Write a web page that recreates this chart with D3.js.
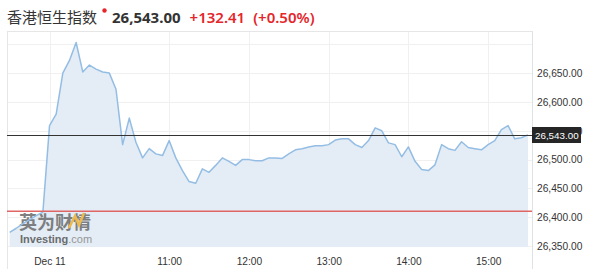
<!DOCTYPE html>
<html>
<head>
<meta charset="utf-8">
<script src="https://cdn.jsdelivr.net/npm/d3@7"></script>
<style>
  body { margin: 0; background: #fff; }
  svg { display: block; }
  .axis text { font-family: "Liberation Sans", Arial, sans-serif; font-size: 10.2px; fill: #333; }
</style>
</head>
<body>
<svg id="chart" width="600" height="269"></svg>
<script>
/*
    Chart data: 5 minute closes of the index on Dec 11
 */
var times = ["09:00","09:05","09:10","09:15","09:20","09:25","09:30","09:35","09:40","09:45",
    "09:50","09:55","10:00","10:05","10:10","10:15","10:20","10:25","10:30","10:35",
    "10:40","10:45","10:50","10:55","11:00","11:05","11:10","11:15","11:20","11:25",
    "11:30","11:35","11:40","11:45","11:50","11:55","12:00","12:05","12:10","12:15",
    "12:20","12:25","12:30","12:35","12:40","12:45","12:50","12:55","13:00","13:05",
    "13:10","13:15","13:20","13:25","13:30","13:35","13:40","13:45","13:50","13:55",
    "14:00","14:05","14:10","14:15","14:20","14:25","14:30","14:35","14:40","14:45",
    "14:50","14:55","15:00","15:05","15:10","15:15","15:20","15:25","15:30"];

var values = [26374,26381,26389,26396,26403,26409,26559,26579,26650,26672,
    26703,26652,26664,26657,26652,26650,26622,26526,26572,26530,
    26503,26519,26510,26507,26533,26503,26481,26462,26459,26484,
    26478,26490,26503,26497,26490,26500,26500,26498,26498,26503,
    26503,26502,26510,26517,26519,26522,26524,26524,26526,26534,
    26536,26536,26526,26521,26533,26555,26550,26529,26526,26505,
    26522,26497,26483,26481,26491,26526,26519,26516,26531,26521,
    26519,26517,26526,26533,26552,26559,26536,26538,26543];

var lastPrice = 26543.00;
var change = 132.41;
var prevClose = lastPrice - change;

var xTickTimes = ["09:30","11:00","12:00","13:00","14:00","15:00"];
var xTickLabels = ["Dec 11","11:00","12:00","13:00","14:00","15:00"];

var yGridValues = [26350,26400,26450,26500,26550,26600,26650,26700];
var yTickValues = [26350,26400,26450,26500,26550,26600,26650];


var plotLeft = 7, plotRight = 532, plotTop = 31, plotBottom = 247;

var parseTime = function(s){
    return d3.timeParse("%Y-%m-%d %H:%M")("2019-12-11 " + s);
};

var data = times.map(function(t, i){
    return {time: parseTime(t), value: values[i]};
});

var svg = d3.select("#chart");

var x = d3.scaleTime()
    .domain([parseTime("08:58"), parseTime("15:33")])
    .range([plotLeft, plotRight]);

var y = d3.scaleLinear()
    .domain([26348.5, 26723])
    .range([plotBottom, plotTop]);

/*
    Header
 */
svg.append("text")
    .attr("x", 7)
    .attr("y", 23)
    .attr("fill", "#333")
    .style("font-family", "'Noto Sans CJK SC', 'Noto Sans', sans-serif")
    .style("font-size", "15px")
    .text("香港恒生指数");

svg.append("circle")
    .attr("cx", 104.5)
    .attr("cy", 10.5)
    .attr("r", 2.2)
    .attr("fill", "#e5262b");

var priceText = svg.append("text")
    .attr("x", 112)
    .attr("y", 23)
    .style("font-family", "'Noto Sans', sans-serif")
    .style("font-size", "15px");

priceText.append("tspan")
    .attr("fill", "#333")
    .style("font-weight", "bold")
    .text(d3.format(",.2f")(lastPrice));

priceText.append("tspan")
    .attr("dx", 9)
    .attr("fill", "#e5262b")
    .style("font-weight", "600")
    .text("+" + d3.format(".2f")(change));

priceText.append("tspan")
    .attr("dx", 8)
    .attr("fill", "#e5262b")
    .style("font-weight", "600")
    .text("(+" + d3.format(".2f")(change / prevClose * 100) + "%)");

/*
    Grid and frame
 */
var grid = svg.append("g");

grid.selectAll(".hgrid")
    .data(yGridValues)
    .enter().append("line")
    .attr("x1", plotLeft).attr("x2", plotRight)
    .attr("y1", function(d){ return Math.round(y(d)) + 0.5; })
    .attr("y2", function(d){ return Math.round(y(d)) + 0.5; })
    .attr("stroke", "#f0f0f0");

grid.selectAll(".vgrid")
    .data(xTickTimes)
    .enter().append("line")
    .attr("x1", function(d){ return Math.round(x(parseTime(d))) + 0.5; })
    .attr("x2", function(d){ return Math.round(x(parseTime(d))) + 0.5; })
    .attr("y1", plotTop).attr("y2", plotBottom)
    .attr("stroke", "#f0f0f0");

// frame lines
svg.append("line").attr("x1", plotLeft).attr("x2", plotRight).attr("y1", plotTop + 0.5).attr("y2", plotTop + 0.5).attr("stroke", "#e6e6e6");
svg.append("line").attr("x1", plotLeft + 0.5).attr("x2", plotLeft + 0.5).attr("y1", plotTop).attr("y2", 269).attr("stroke", "#e6e6e6");
svg.append("line").attr("x1", plotRight + 0.5).attr("x2", plotRight + 0.5).attr("y1", plotTop).attr("y2", 269).attr("stroke", "#dde3ea");

/*
    Area and line
 */
var area = d3.area()
    .x(function(d){ return x(d.time); })
    .y0(plotBottom)
    .y1(function(d){ return y(d.value); });

var line = d3.line()
    .x(function(d){ return x(d.time); })
    .y(function(d){ return y(d.value); });

svg.append("path")
    .datum(data)
    .attr("d", area)
    .attr("fill", "#e4edf5");

/*
    Watermark
 */
var wm = svg.append("g").attr("opacity", 0.85);

wm.append("text")
    .attr("x", 19)
    .attr("y", 229)
    .attr("fill", "#6b6b6b")
    .style("font-family", "'Noto Sans CJK SC', sans-serif")
    .style("font-size", "18px")
    .style("font-weight", "bold")
    .text("英为财情");

wm.append("path")
    .attr("d", "M69,228 L75,216 L79,225 L84,213")
    .attr("fill", "none")
    .attr("stroke", "#f0b030")
    .attr("stroke-width", 2.5);

var wmText = wm.append("text")
    .attr("x", 20)
    .attr("y", 243)
    .style("font-family", "'Liberation Sans', Arial, sans-serif")
    .style("font-size", "11px");

wmText.append("tspan").attr("fill", "#555").style("font-weight", "bold").text("Investing");
wmText.append("tspan").attr("fill", "#888").text(".com");

svg.append("path")
    .datum(data)
    .attr("d", line)
    .attr("fill", "none")
    .attr("stroke", "#94bde4")
    .attr("stroke-width", 1.5)
    .attr("stroke-linejoin", "round");

/*
    Previous close and last price lines
 */
svg.append("line")
    .attr("x1", plotLeft).attr("x2", plotRight)
    .attr("y1", y(prevClose)).attr("y2", y(prevClose))
    .attr("stroke", "#e06666")
    .attr("stroke-width", 1.5);

svg.append("line")
    .attr("x1", plotLeft).attr("x2", plotRight)
    .attr("y1", Math.round(y(lastPrice)) + 0.5).attr("y2", Math.round(y(lastPrice)) + 0.5)
    .attr("stroke", "#333")
    .attr("stroke-width", 1);

/*
    Axes
 */
var yAxis = svg.append("g")
    .attr("class", "axis")
    .attr("transform", "translate(" + plotRight + ",0)")
    .call(d3.axisRight(y)
        .tickValues(yTickValues)
        .tickSize(0)
        .tickPadding(5)
        .tickFormat(d3.format(",.2f")));

yAxis.select(".domain").remove();

var xAxis = svg.append("g")
    .attr("class", "axis")
    .attr("transform", "translate(0," + 258 + ")")
    .call(d3.axisBottom(x)
        .tickValues(xTickTimes.map(parseTime))
        .tickSize(0)
        .tickPadding(0)
        .tickFormat(function(d, i){ return xTickLabels[i]; }));

xAxis.select(".domain").remove();

// last price label, drawn over the tick label it hides
var ly = Math.round(y(lastPrice));
svg.append("rect")
    .attr("x", plotRight)
    .attr("y", ly - 8)
    .attr("width", 49)
    .attr("height", 16)
    .attr("fill", "#262626");

svg.append("text")
    .attr("x", plotRight + 3)
    .attr("y", ly + 4)
    .attr("fill", "#fff")
    .style("font-family", "'Liberation Sans', Arial, sans-serif")
    .style("font-size", "9.8px")
    .text(d3.format(",.2f")(lastPrice));
</script>
</body>
</html>
